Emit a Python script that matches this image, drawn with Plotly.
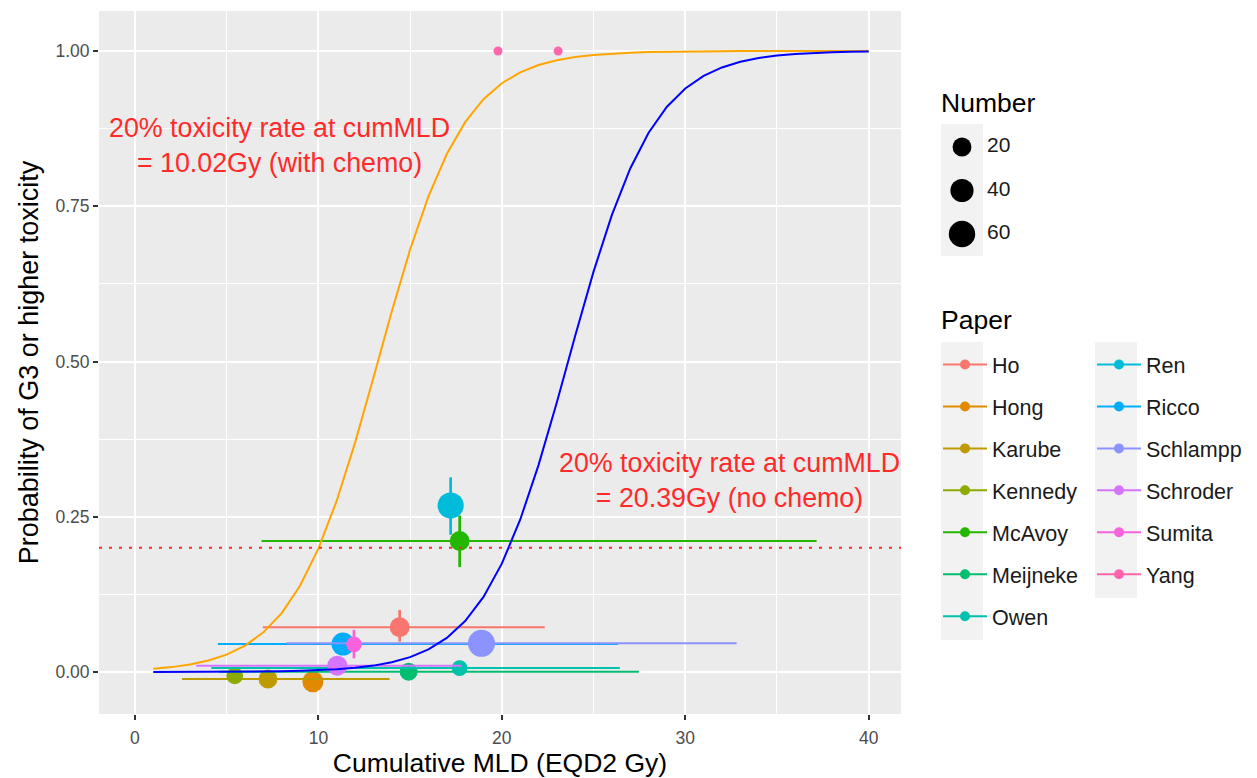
import numpy as np
import plotly.graph_objects as go

# ---- study-level summary data -------------------------------------------
paper = ["Ho", "Hong", "Karube", "Kennedy", "McAvoy", "Meijneke", "Owen",
         "Ren", "Ricco", "Schlampp", "Schroder", "Sumita", "Yang", "Yang"]
cum_mld = [14.43, 9.70, 7.25, 5.44, 17.70, 14.92, 17.70,
           17.21, 11.34, 18.89, 11.03, 11.94, 19.79, 23.07]
tox_rate = [0.072, -0.0156, -0.0113, -0.006, 0.211, 0.0005, 0.0064,
            0.268, 0.045, 0.0462, 0.0102, 0.0446, 1.0, 1.0]
n_patients = [24, 29, 20, 13, 24, 17, 10, 58, 39, 64, 25, 10, 1, 1]
mld_low = [6.97, None, 2.57, None, 6.90, 4.60, 4.16,
           None, 4.52, 8.25, 3.34, None, None, None]
mld_high = [22.34, None, 13.88, None, 37.16, 27.47, 26.43,
            None, 26.34, 32.80, 17.80, None, None, None]
rate_low = [0.049, None, None, None, 0.169, None, None,
            0.221, None, None, None, 0.022, None, None]
rate_high = [0.100, None, None, None, 0.252, None, None,
             0.3135, None, None, None, 0.068, None, None]

paper_levels = ["Ho", "Hong", "Karube", "Kennedy", "McAvoy", "Meijneke", "Owen",
                "Ren", "Ricco", "Schlampp", "Schroder", "Sumita", "Yang"]
paper_colors = ["#F8766D", "#E18A00", "#BE9C00", "#8CAB00", "#24B700", "#00BE70",
                "#00C1AB", "#00BBDA", "#00ACFC", "#8B93FF", "#D575FE", "#F962DD",
                "#FF65AC"]

number_breaks = [20, 40, 60]

# ---- fitted logistic dose-response (shared slope, chemo shift) ----------
td20_chemo = 10.02
td20_nochemo = 20.39
slope = 0.43
tox_threshold = 0.2
dose_grid = np.arange(1, 41)

FONT = "Liberation Sans, Arial, Helvetica, sans-serif"
W, H = 1257, 778
ML, MR, MT, MB = 99, 10, 11, 64
PW, PH = W - ML - MR, H - MT - MB
PANEL_RIGHT = 901


def px_to_paper_x(px):
    return (px - ML) / PW


def px_to_paper_y(py):
    return (H - MB - py) / PH


def logistic_curve(td20):
    logit = np.log(tox_threshold / (1 - tox_threshold)) + slope * (dose_grid - td20)
    return 1 / (1 + np.exp(-logit))


n_min, n_max = min(n_patients), max(n_patients)


def point_size(n):
    n = np.asarray(n, dtype=float)
    return 9 + 18 * np.sqrt((n - n_min) / (n_max - n_min))


def as_float(v):
    return np.nan if v is None else float(v)


fig = go.Figure()

# ---- study points with dose ranges and rate intervals --------------------
for name, col in zip(paper_levels, paper_colors):
    idx = [i for i, p in enumerate(paper) if p == name]
    x = np.array([cum_mld[i] for i in idx])
    y = np.array([tox_rate[i] for i in idx])
    lo_x = np.array([as_float(mld_low[i]) for i in idx])
    hi_x = np.array([as_float(mld_high[i]) for i in idx])
    lo_y = np.array([as_float(rate_low[i]) for i in idx])
    hi_y = np.array([as_float(rate_high[i]) for i in idx])
    has_x = not np.all(np.isnan(lo_x))
    has_y = not np.all(np.isnan(lo_y))
    fig.add_trace(go.Scatter(
        x=x, y=y, mode="markers", name=name, showlegend=False,
        marker=dict(color=col, size=point_size([n_patients[i] for i in idx]),
                    line=dict(width=0), opacity=1),
        error_x=dict(type="data", symmetric=False, array=np.nan_to_num(hi_x - x),
                     arrayminus=np.nan_to_num(x - lo_x), width=0, thickness=2,
                     color=col, visible=has_x),
        error_y=dict(type="data", symmetric=False, array=np.nan_to_num(hi_y - y),
                     arrayminus=np.nan_to_num(y - lo_y), width=0, thickness=2.7,
                     color=col, visible=has_y),
        hoverinfo="skip",
    ))

# ---- dose-response curves ------------------------------------------------
fig.add_trace(go.Scatter(x=dose_grid, y=logistic_curve(td20_chemo), mode="lines",
                         line=dict(color="orange", width=2), showlegend=False,
                         hoverinfo="skip"))
fig.add_trace(go.Scatter(x=dose_grid, y=logistic_curve(td20_nochemo), mode="lines",
                         line=dict(color="blue", width=2), showlegend=False,
                         hoverinfo="skip"))

# ---- Paper legend (two columns) -------------------------------------------
for k, (name, col) in enumerate(zip(paper_levels, paper_colors)):
    fig.add_trace(go.Scatter(
        x=[None], y=[None], mode="lines+markers", name=name,
        line=dict(color=col, width=2), marker=dict(color=col, size=10),
        legend="legend2" if k < 7 else "legend3", legendgroup=name,
    ))

# ---- Number (size) legend on its own small axes ----------------------------
key_left, key_right, size_legend_right = 941, 983, 1060
y2_top_px, y2_bot_px = 124, 256
px_per_unit = (234 - 147) / (number_breaks[-1] - number_breaks[0])
y2_top_val = number_breaks[0] - (147 - y2_top_px) / px_per_unit
y2_bot_val = number_breaks[-1] + (y2_bot_px - 234) / px_per_unit
key_centre = (key_right - key_left) / 2
label_x = 46

fig.add_trace(go.Scatter(
    x=[key_centre] * len(number_breaks), y=number_breaks, mode="markers",
    marker=dict(color="#000000", size=point_size(number_breaks), opacity=1,
                line=dict(width=0)),
    xaxis="x2", yaxis="y2", showlegend=False, hoverinfo="skip",
))
fig.add_trace(go.Scatter(
    x=[label_x] * len(number_breaks), y=number_breaks, mode="text",
    text=[str(b) for b in number_breaks], textposition="middle right",
    textfont=dict(size=21, color="#1A1A1A", family=FONT),
    xaxis="x2", yaxis="y2", showlegend=False, hoverinfo="skip",
))

shapes = [
    # panel background
    dict(type="rect", xref="x domain", yref="y domain", x0=0, x1=1, y0=0, y1=1,
         fillcolor="#EBEBEB", line=dict(width=0), layer="below"),
    # 20% toxicity reference line
    dict(type="line", xref="x domain", yref="y", x0=0, x1=1,
         y0=tox_threshold, y1=tox_threshold, layer="above",
         line=dict(color="#FF2A2A", width=2, dash="3px,7px")),
    # key background for the size legend
    dict(type="rect", xref="paper", yref="paper",
         x0=px_to_paper_x(key_left), x1=px_to_paper_x(key_right),
         y0=px_to_paper_y(y2_bot_px), y1=px_to_paper_y(y2_top_px),
         fillcolor="#F2F2F2", line=dict(width=0), layer="below"),
    # key backgrounds for the Paper legend columns
    dict(type="rect", xref="paper", yref="paper",
         x0=px_to_paper_x(key_left), x1=px_to_paper_x(key_right),
         y0=px_to_paper_y(640), y1=px_to_paper_y(342),
         fillcolor="#F2F2F2", line=dict(width=0), layer="below"),
    dict(type="rect", xref="paper", yref="paper",
         x0=px_to_paper_x(key_left + 154), x1=px_to_paper_x(key_right + 154),
         y0=px_to_paper_y(598), y1=px_to_paper_y(342),
         fillcolor="#F2F2F2", line=dict(width=0), layer="below"),
]

annotations = [
    dict(x=7.9, y=0.848, xref="x", yref="y", showarrow=False,
         text="20% toxicity rate at cumMLD<br>= 10.02Gy (with chemo)",
         font=dict(size=26.8, color="#FF2A2A", family=FONT), align="center"),
    dict(x=32.4, y=0.308, xref="x", yref="y", showarrow=False,
         text="20% toxicity rate at cumMLD<br>= 20.39Gy (no chemo)",
         font=dict(size=26.8, color="#FF2A2A", family=FONT), align="center"),
    dict(x=px_to_paper_x(939), y=px_to_paper_y(103), xref="paper", yref="paper",
         xanchor="left", yanchor="middle", showarrow=False, text="Number",
         font=dict(size=26.5, color="black", family=FONT)),
    dict(x=px_to_paper_x(939), y=px_to_paper_y(320), xref="paper", yref="paper",
         xanchor="left", yanchor="middle", showarrow=False, text="Paper",
         font=dict(size=26.5, color="black", family=FONT)),
]

axis_common = dict(
    showgrid=True, gridcolor="white", gridwidth=2.2, zeroline=False, showline=False,
    ticks="outside", ticklen=5, tickwidth=1.5, tickcolor="#333333",
    tickfont=dict(size=17.5, color="#4D4D4D", family=FONT),
)

legend_common = dict(
    font=dict(size=21.5, color="#1A1A1A", family=FONT),
    bgcolor="rgba(0,0,0,0)", borderwidth=0, tracegroupgap=11,
    itemwidth=44, itemsizing="trace", xanchor="left", yanchor="top",
    itemclick=False, itemdoubleclick=False,
)

fig.update_layout(
    width=W, height=H,
    margin=dict(l=ML, r=MR, t=MT, b=MB, autoexpand=False),
    paper_bgcolor="white", plot_bgcolor="rgba(0,0,0,0)",
    font=dict(family=FONT),
    showlegend=True,
    xaxis=dict(axis_common, domain=[0, px_to_paper_x(PANEL_RIGHT)],
               range=[-1.96, 41.76], tickmode="array", tickvals=[0, 10, 20, 30, 40],
               ticklabelstandoff=3,
               minor=dict(tickmode="linear", tick0=0, dtick=5, showgrid=True,
                          gridcolor="white", gridwidth=1.1),
               title=dict(text="Cumulative MLD (EQD2 Gy)", standoff=10,
                          font=dict(size=26.5, color="black", family=FONT))),
    yaxis=dict(axis_common, domain=[0, 1], range=[-0.0676, 1.0644],
               tickmode="array", tickvals=[0, 0.25, 0.5, 0.75, 1.0],
               ticktext=["0.00", "0.25", "0.50", "0.75", "1.00"],
               minor=dict(tickmode="linear", tick0=0, dtick=0.125, showgrid=True,
                          gridcolor="white", gridwidth=1.1),
               title=dict(text="Probability of G3 or higher toxicity", standoff=8,
                          font=dict(size=27, color="black", family=FONT))),
    xaxis2=dict(domain=[px_to_paper_x(key_left), px_to_paper_x(size_legend_right)],
                range=[0, size_legend_right - key_left], anchor="y2", showgrid=False,
                zeroline=False, showticklabels=False, ticks="", fixedrange=True),
    yaxis2=dict(domain=[px_to_paper_y(y2_bot_px), px_to_paper_y(y2_top_px)],
                range=[y2_bot_val, y2_top_val], anchor="x2", showgrid=False,
                zeroline=False, showticklabels=False, ticks="", fixedrange=True),
    legend2=dict(legend_common, x=px_to_paper_x(938), y=px_to_paper_y(344)),
    legend3=dict(legend_common, x=px_to_paper_x(938 + 154), y=px_to_paper_y(344)),
    shapes=shapes,
    annotations=annotations,
)

fig.write_html("out.html")
